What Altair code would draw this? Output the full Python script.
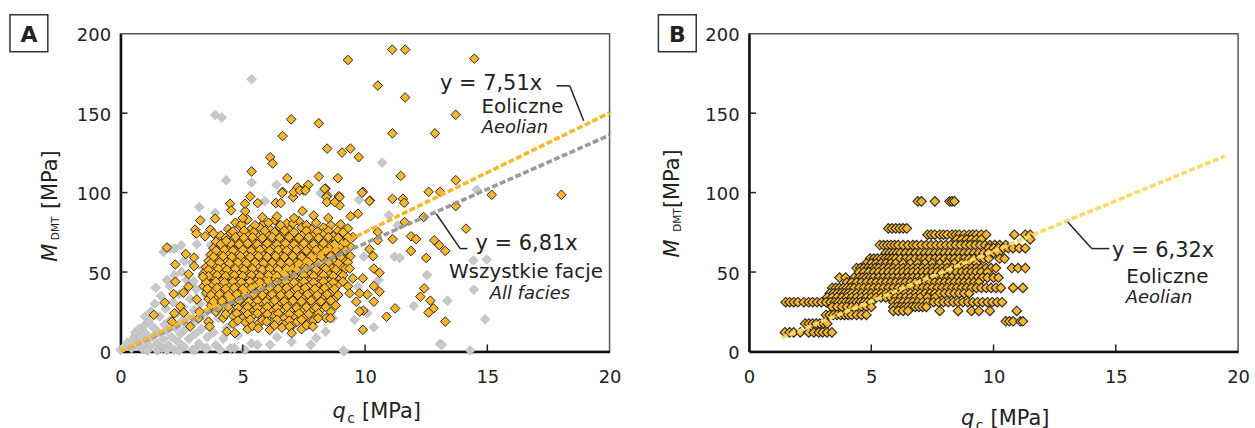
import altair as alt
import pandas as pd

FONT = "DejaVu Sans"
W, H = 491, 319

X_TICKS = [0, 5, 10, 15, 20]
Y_TICKS = [0, 50, 100, 150, 200]
X_INNER_TICKS = [5, 10, 15]
Y_INNER_TICKS = [50, 100, 150]

# ---------------- Panel A : all facies (grey) ----------------
A_GRAY = [
    (0.0, 1), (0.15, 3), (0.3, 5.5), (0.27, 5.2), (0.45, 2), (0.54, 6.3), (0.55, 9), (0.7, 4), (0.8, 9),
    (0.9, 1.5), (1.02, 11.5), (1.05, 6), (1.15, 18.8), (1.2, 3), (1.3, 9), (1.35, 15), (1.44, 40.1),
    (1.5, 5), (1.55, 12), (1.6, 22), (1.7, 2), (1.75, 8), (1.8, 17), (1.85, 27), (1.9, 13), (1.95, 4),
    (2.01, 41.2), (2.05, 20), (2.1, 9), (2.15, 31), (2.2, 1), (2.25, 15), (2.3, 24), (2.35, 6), (2.4, 36),
    (2.45, 11), (2.5, 19), (2.55, 28), (2.6, 3), (2.65, 14), (2.7, 45), (2.75, 22), (2.8, 8), (2.85, 33),
    (2.9, 17), (2.95, 1), (3.0, 26), (3.05, 11), (3.1, 39), (3.15, 20), (3.2, 5), (3.25, 30), (3.3, 14),
    (3.35, 48), (3.4, 23), (3.45, 2), (3.5, 35), (3.55, 9), (3.6, 18), (3.7, 27), (3.8, 12), (3.9, 4),
    (4.0, 21), (4.1, 31), (4.2, 8), (4.35, 15), (4.5, 2), (4.66, 2), (4.8, 10), (5.09, 1), (5.36, 5),
    (5.6, 4.2), (6.12, 4.2), (6.4, 9), (7.78, 4.2), (8.39, 12.5), (0.6, 12), (0.95, 16), (1.25, 25),
    (1.4, 30), (1.65, 35), (1.1, 0.5), (1.5, 0.5), (1.9, 0.8), (2.4, 0.5), (0.75, 14), (1.0, 22),
    (1.76, 62.7), (2.04, 64.8), (2.21, 64.8), (2.48, 66.9), (3.12, 67.5), (3.7, 66.9), (3.64, 60.6),
    (3.83, 57.5), (4.03, 62.7), (2.92, 55.8), (3.39, 52.2), (3.6, 52.2), (3.22, 90.9), (3.87, 87.1),
    (2.2, 48), (2.6, 57), (1.9, 45), (2.5, 50), (3.0, 44),
    (5.36, 171.4), (3.87, 148.8), (4.14, 147.3), (4.32, 107.8), (5.36, 106.4), (6.38, 104.9), (5.9, 94.7),
    (8.21, 99.2), (9.75, 95.5), (8.19, 99.9), (10.7, 118.9), (14.57, 101.8), (10.97, 85.7), (11.34, 79.4),
    (11.21, 59.6), (11.42, 58.9), (12.53, 48.1), (13.37, 32), (14.45, 38.9), (11.99, 28.6), (14.91, 20.3),
    (10.36, 15.2), (13.07, 4.8), (14.3, 0.6), (14.98, 57.9), (14.43, 57.3), (9.95, 59.6), (10.56, 45),
    (10.09, 24), (13.14, 4.2), (9.14, 0), (4.07, 1), (3.53, 2.1), (3.05, 1), (9.57, 19.9), (8.69, 20.9),
    (9.71, 40.8), (9.12, 0.6), (7.0, 6), (8.0, 8.5),
]

# ---------------- Panel A : aeolian (orange) ----------------
A_ORANGE_OUT = [
    (9.30, 183.5), (6.98, 146.1), (8.11, 143.6), (6.63, 135.6), (8.45, 127.7), (9.06, 125.2), (9.40, 127.7),
    (9.74, 122.3), (6.12, 122.3), (6.22, 118.3), (5.36, 113.3), (6.82, 109.1), (8.11, 110.1), (8.89, 109.1),
    (7.24, 103.4), (7.68, 104.9), (8.38, 102.6), (6.63, 100.5), (7.5, 101.4), (9.91, 100.5),
    (11.11, 190), (11.64, 190), (14.47, 184.3), (10.52, 167.4), (11.64, 159.9), (13.71, 149), (11.12, 137.3),
    (12.86, 137.3), (11.46, 110.5), (13.71, 107.8), (12.6, 100.5), (13.07, 100.5), (18.03, 98.6), (15.18, 98.6),
    (8.46, 98.2), (8.93, 97.8), (9.88, 99.9), (10.2, 95), (11.12, 96.1), (11.55, 96.1), (10.18, 94.7),
    (11.6, 93.6), (13.71, 91.5), (11.62, 81.5), (12.4, 84.6), (14.13, 77.3), (10.52, 75.2), (11.13, 70.7),
    (11.88, 72.5), (12.09, 70.7), (12.83, 70), (13.03, 66.9), (13.28, 63.3), (11.88, 63.3), (12.5, 58.9),
    (10.52, 70), (10.18, 64.4), (10.33, 60), (10.36, 52.2), (10.59, 49.5), (9.91, 46), (10.36, 41.2),
    (10.59, 37.6), (10.09, 35.9), (12.42, 39.7), (12.26, 34.5), (12.67, 32), (10.36, 31.3), (11.23, 27.1),
    (12.8, 27.1), (12.6, 24.5), (10.88, 21.9), (13.28, 18.8), (9.93, 25.7), (9.91, 13.6),
    (1.9, 65.4), (2.67, 61.3), (3.01, 59.1), (2.24, 54.7), (3.01, 53.7), (2.78, 48.7), (3.37, 47), (2.24, 43.9),
    (3.05, 76.7), (3.1, 74.2), (3.46, 72.5), (3.26, 82.5), (3.87, 83.6), (3.67, 76.7), (3.8, 74.2), (4.32, 69.6),
    (4.48, 93), (4.52, 88.8), (5.1, 88.4), (5.09, 93), (5.3, 97.6), (5.61, 93.4), (6.35, 93.4), (6.55, 93.4),
    (7.44, 88.4), (7.06, 97.2), (7.08, 100.3), (6.61, 99.7), (7.33, 101.4), (7.56, 101.4), (8.35, 102.4),
    (8.42, 97.2), (8.44, 94), (8.96, 97.2), (8.96, 92), (8.76, 94), (9.41, 85.1), (9.71, 86.7),
    (5.0, 84), (5.8, 84.5), (6.4, 85), (7.1, 84), (7.9, 85.5), (8.5, 84), (9.0, 80),
    (1.36, 23), (1.81, 30.7), (2.17, 36.2), (2.58, 37), (2.78, 40.8), (2.2, 24), (2.58, 24.5), (3.12, 32.8),
    (2.85, 15.7), (2.1, 18.8), (2.44, 28.4), (3.19, 20.9), (3.23, 25.1), (3.6, 18.8), (3.64, 15.7),
    (4.35, 12.5), (4.68, 11.5), (5.63, 14.6), (5.98, 18.8), (6.92, 15.7), (7.0, 11.5), (8.08, 20.9),
    (7.87, 15.7), (8.58, 20.9), (9.37, 52.2), (9.5, 46), (9.78, 36.6), (9.37, 36.6), (9.64, 31.3), (9.78, 25.1),
]

A_ORANGE_CORE = [
    (4.7, 81), (5.2, 83), (5.8, 80), (6.3, 82.5), (6.8, 80.5), (7.3, 82), (8.0, 81), (8.6, 79.5),
    (4.4, 77), (4.9, 78.5), (5.3, 76.5), (5.7, 78), (6.1, 77), (6.5, 78.5), (6.9, 76.5), (7.4, 78), (7.8, 77),
    (8.3, 78), (8.9, 76), (9.3, 77.5),
    (4.1, 73), (4.5, 74.5), (4.9, 73), (5.2, 74), (5.6, 72.5), (6.0, 74), (6.35, 73), (6.7, 74.5), (7.1, 72.5),
    (7.5, 74), (7.9, 73), (8.3, 74.5), (8.7, 72.5), (9.1, 73.5), (9.5, 72),
    (3.9, 69), (4.3, 70.5), (4.7, 69), (5.0, 70.5), (5.4, 69), (5.8, 70.5), (6.2, 69), (6.55, 70.5), (6.9, 69),
    (7.3, 70.5), (7.7, 69), (8.1, 70.5), (8.5, 69), (8.95, 70),
    (3.8, 65), (4.15, 66.5), (4.5, 65), (4.85, 66.5), (5.2, 65), (5.55, 66.5), (5.9, 65), (6.3, 66.5),
    (6.65, 65), (7.0, 66.5), (7.4, 65), (7.8, 66.5), (8.2, 65), (8.6, 66.5), (9.0, 65), (9.4, 66),
    (3.7, 61), (4.05, 62.5), (4.4, 61), (4.75, 62.5), (5.1, 61), (5.45, 62.5), (5.8, 61), (6.15, 62.5),
    (6.5, 61), (6.85, 62.5), (7.2, 61), (7.6, 62.5), (8.0, 61), (8.4, 62.5), (8.8, 61), (9.2, 62),
    (3.6, 57), (3.95, 58.5), (4.3, 57), (4.65, 58.5), (5.0, 57), (5.35, 58.5), (5.7, 57), (6.05, 58.5),
    (6.4, 57), (6.75, 58.5), (7.1, 57), (7.5, 58.5), (7.9, 57), (8.3, 58.5), (8.7, 57), (9.1, 58),
    (3.5, 53), (3.85, 54.5), (4.2, 53), (4.55, 54.5), (4.9, 53), (5.25, 54.5), (5.6, 53), (5.95, 54.5),
    (6.3, 53), (6.65, 54.5), (7.0, 53), (7.4, 54.5), (7.8, 53), (8.2, 54.5), (8.6, 53), (9.0, 54),
    (3.4, 49), (3.75, 50.5), (4.1, 49), (4.45, 50.5), (4.8, 49), (5.15, 50.5), (5.5, 49), (5.85, 50.5),
    (6.2, 49), (6.55, 50.5), (6.9, 49), (7.3, 50.5), (7.7, 49), (8.1, 50.5), (8.5, 49), (8.9, 50),
    (3.5, 45), (3.85, 46.5), (4.2, 45), (4.55, 46.5), (4.9, 45), (5.25, 46.5), (5.6, 45), (5.95, 46.5),
    (6.3, 45), (6.65, 46.5), (7.0, 45), (7.4, 46.5), (7.8, 45), (8.2, 46.5), (8.6, 45), (9.0, 46),
    (3.4, 41), (3.75, 42.5), (4.1, 41), (4.45, 42.5), (4.8, 41), (5.15, 42.5), (5.5, 41), (5.85, 42.5),
    (6.2, 41), (6.55, 42.5), (6.9, 41), (7.3, 42.5), (7.7, 41), (8.1, 42.5), (8.5, 41), (8.9, 42), (9.3, 41),
    (3.5, 37), (3.85, 38.5), (4.2, 37), (4.55, 38.5), (4.9, 37), (5.25, 38.5), (5.6, 37), (5.95, 38.5),
    (6.3, 37), (6.65, 38.5), (7.0, 37), (7.4, 38.5), (7.8, 37), (8.2, 38.5), (8.6, 37),
    (3.6, 33), (3.95, 34.5), (4.3, 33), (4.65, 34.5), (5.0, 33), (5.35, 34.5), (5.7, 33), (6.05, 34.5),
    (6.4, 33), (6.75, 34.5), (7.1, 33), (7.5, 34.5), (7.9, 33), (8.3, 34.5), (8.75, 33),
    (3.7, 29), (4.05, 30.5), (4.4, 29), (4.75, 30.5), (5.1, 29), (5.45, 30.5), (5.8, 29), (6.15, 30.5),
    (6.5, 29), (6.85, 30.5), (7.2, 29), (7.6, 30.5), (8.0, 29), (8.4, 30.5), (8.8, 29),
    (3.9, 25), (4.3, 26.5), (4.7, 25), (5.05, 26.5), (5.4, 25), (5.8, 26.5), (6.2, 25), (6.6, 26.5),
    (7.0, 25), (7.4, 26.5), (7.8, 25), (8.2, 26.5), (8.6, 25),
    (4.2, 21), (4.6, 22.5), (5.0, 21), (5.4, 22.5), (5.8, 21), (6.25, 22.5), (6.7, 21), (7.1, 22.5),
    (7.5, 21), (7.95, 22.5), (8.4, 21),
    (4.6, 17.5), (5.1, 18.5), (5.6, 17), (6.2, 18.5), (6.7, 17), (7.2, 18.5), (7.7, 17),
    (5.2, 14), (6.1, 13.5), (6.6, 15), (7.4, 14),
]

A_ORANGE_CORE_2 = [
    (4.95, 80), (5.5, 79.5), (6.05, 81), (6.55, 79.5), (7.05, 80.5), (7.6, 79.5),
    (4.6, 75.5), (5.05, 76), (5.45, 75), (5.9, 76), (6.3, 75), (6.7, 76), (7.1, 75), (7.6, 76), (8.05, 75.5),
    (8.5, 76), (9.1, 75),
    (4.3, 71.5), (4.7, 72), (5.05, 71.5), (5.4, 72), (5.8, 71.5), (6.2, 72), (6.5, 71.5), (6.9, 72),
    (7.3, 71.5), (7.7, 72), (8.1, 71.5), (8.5, 72), (8.9, 71.5), (9.3, 72),
    (4.1, 67.5), (4.5, 68), (4.85, 67.5), (5.2, 68), (5.6, 67.5), (6.0, 68), (6.4, 67.5), (6.75, 68),
    (7.1, 67.5), (7.5, 68), (7.9, 67.5), (8.3, 68), (8.75, 67.5), (9.2, 68),
    (3.9, 63.5), (4.25, 64), (4.6, 63.5), (5.0, 64), (5.35, 63.5), (5.7, 64), (6.1, 63.5), (6.45, 64),
    (6.8, 63.5), (7.2, 64), (7.6, 63.5), (8.0, 64), (8.4, 63.5), (8.8, 64), (9.2, 63.5),
    (3.8, 59.5), (4.2, 60), (4.55, 59.5), (4.9, 60), (5.3, 59.5), (5.65, 60), (6.0, 59.5), (6.35, 60),
    (6.7, 59.5), (7.05, 60), (7.4, 59.5), (7.8, 60), (8.2, 59.5), (8.6, 60), (9.0, 59.5), (9.4, 60),
    (3.7, 55.5), (4.05, 56), (4.45, 55.5), (4.8, 56), (5.15, 55.5), (5.5, 56), (5.85, 55.5), (6.2, 56),
    (6.55, 55.5), (6.9, 56), (7.3, 55.5), (7.7, 56), (8.1, 55.5), (8.5, 56), (8.9, 55.5), (9.3, 56),
    (3.6, 51.5), (4.0, 52), (4.35, 51.5), (4.7, 52), (5.05, 51.5), (5.4, 52), (5.8, 51.5), (6.1, 52),
    (6.45, 51.5), (6.8, 52), (7.2, 51.5), (7.6, 52), (8.0, 51.5), (8.4, 52), (8.8, 51.5), (9.2, 52),
    (3.6, 47.5), (3.95, 48), (4.3, 47.5), (4.65, 48), (5.0, 47.5), (5.35, 48), (5.7, 47.5), (6.05, 48),
    (6.4, 47.5), (6.75, 48), (7.1, 47.5), (7.5, 48), (7.9, 47.5), (8.3, 48), (8.7, 47.5), (9.1, 48),
    (3.5, 43.5), (3.9, 44), (4.25, 43.5), (4.6, 44), (4.95, 43.5), (5.3, 44), (5.7, 43.5), (6.05, 44),
    (6.4, 43.5), (6.75, 44), (7.1, 43.5), (7.5, 44), (7.9, 43.5), (8.3, 44), (8.7, 43.5), (9.1, 44),
    (3.55, 39.5), (3.95, 40), (4.3, 39.5), (4.65, 40), (5.0, 39.5), (5.35, 40), (5.75, 39.5), (6.1, 40),
    (6.45, 39.5), (6.8, 40), (7.2, 39.5), (7.55, 40), (7.95, 39.5), (8.35, 40), (8.75, 39.5),
    (3.7, 35.5), (4.05, 36), (4.4, 35.5), (4.75, 36), (5.1, 35.5), (5.45, 36), (5.8, 35.5), (6.2, 36),
    (6.55, 35.5), (6.9, 36), (7.25, 35.5), (7.65, 36), (8.05, 35.5), (8.45, 36), (8.9, 35.5),
    (3.8, 31.5), (4.15, 32), (4.5, 31.5), (4.85, 32), (5.25, 31.5), (5.6, 32), (5.95, 31.5), (6.3, 32),
    (6.7, 31.5), (7.05, 32), (7.4, 31.5), (7.8, 32), (8.2, 31.5), (8.6, 32),
    (4.0, 27.5), (4.4, 28), (4.8, 27.5), (5.2, 28), (5.6, 27.5), (6.0, 28), (6.4, 27.5), (6.8, 28),
    (7.2, 27.5), (7.6, 28), (8.0, 27.5), (8.4, 28),
    (4.3, 23.5), (4.75, 24), (5.2, 23.5), (5.6, 24), (6.0, 23.5), (6.45, 24), (6.9, 23.5), (7.3, 24),
    (7.7, 23.5), (8.1, 24),
    (4.8, 19.5), (5.3, 20), (5.8, 19.5), (6.4, 20), (6.9, 19.5), (7.4, 20), (7.9, 19.5),
    (5.4, 16), (6.3, 16.5), (7.0, 16), (7.6, 16.5),
]

# ---------------- Panel B : aeolian, rows of constant M_DMT ----------------
B_LEVELS = [94.5, 77.5, 73.5, 70.5, 67, 65, 62, 58.5, 55.5, 52.5, 50, 46.5, 43.5, 40, 36.5, 34, 31, 28,
            25.5, 23, 19, 17.5, 12]
B_ROWS = [
    [6.9, 7.05, 7.6, 8.2, 8.3, 8.4],
    [5.7, 5.85, 6.0, 6.15, 6.3, 6.45],
    [7.3, 7.45, 7.6, 7.8, 7.95, 8.1, 8.3, 8.45, 8.6, 8.8, 9.0, 9.15, 9.3, 9.5, 9.7, 10.85, 11.3, 11.5],
    [8.5, 8.7, 8.9, 9.1, 9.3, 9.5, 11.5],
    [5.35, 5.5, 5.65, 5.8, 5.95, 6.1, 6.3, 6.5, 6.7, 6.85, 7.05, 7.25, 7.45, 7.65, 7.85, 8.05, 8.25, 8.45,
     8.65, 8.85, 9.05, 9.25, 9.45, 9.65, 9.85, 10.05, 10.25, 10.5],
    [9.8, 10.0, 10.2, 10.4, 10.6, 10.8, 11.05, 11.3],
    [5.6, 5.75, 5.9, 6.05, 6.2, 6.4, 6.6, 6.8, 7.0, 7.2, 7.4, 7.6, 7.8, 8.0, 8.2, 8.4, 8.6, 8.8, 9.0, 9.2,
     9.4, 9.6, 9.8, 10.0, 10.2],
    [4.95, 5.1, 5.25, 5.4, 5.55, 5.7, 5.85, 6.0, 6.2, 6.4, 6.6, 6.8, 7.0, 7.2, 7.4, 7.6, 7.8, 8.0, 8.2, 8.4,
     8.6, 8.8, 9.0, 9.2, 9.4, 9.6, 9.8, 10.25, 10.45],
    [4.8, 5.0, 5.2, 5.4, 5.6, 5.8, 6.0, 6.3, 6.6, 6.9, 7.2, 7.5, 7.8, 8.1, 8.4, 8.7, 9.0, 9.3],
    [4.4, 4.55, 4.7, 4.85, 5.0, 5.15, 5.3, 5.5, 5.7, 5.9, 6.1, 6.3, 6.5, 6.7, 6.9, 7.1, 7.3, 7.5, 7.7, 7.9,
     8.1, 8.3, 8.5, 8.7, 8.9, 9.1, 9.3, 9.5, 9.7, 9.9, 10.1, 10.75, 11.0, 11.3],
    [4.5, 4.7, 4.9, 5.1, 5.3, 5.5, 5.7, 5.9, 6.1, 6.3, 6.5, 6.7, 6.9, 7.1, 7.3, 7.5, 7.7, 7.9, 8.1, 8.3,
     8.5, 8.7, 8.9, 9.1, 9.3, 9.5, 9.75],
    [3.7, 3.95, 4.3, 4.5, 4.65, 4.8, 4.95, 5.1, 5.3, 5.5, 5.7, 5.9, 6.1, 6.3, 6.5, 6.7, 6.9, 7.1, 7.3, 7.5,
     7.7, 7.9, 8.1, 8.3, 8.55, 8.75, 8.95, 9.15, 9.35, 9.55, 9.75, 10.0, 10.2],
    [4.0, 4.2, 4.4, 4.6, 4.8, 5.0, 5.2, 5.4, 5.6, 5.8, 6.0, 6.2, 6.4, 6.6, 6.8, 7.0, 7.2, 7.4, 7.6, 7.8,
     8.0, 8.2, 8.4, 8.6, 8.8, 9.0, 9.2, 9.4],
    [3.4, 3.55, 3.7, 3.85, 4.0, 4.15, 4.3, 4.5, 4.7, 4.9, 5.1, 5.3, 5.5, 5.7, 5.9, 6.1, 6.3, 6.5, 6.7, 6.9,
     7.1, 7.3, 7.5, 7.7, 7.9, 8.1, 8.3, 8.5, 8.7, 8.9, 9.1, 9.3, 9.5, 9.7, 9.9, 10.1, 10.3, 10.8, 11.2],
    [3.3, 3.45, 3.6, 3.75, 3.9, 4.05, 4.2, 4.4, 4.6, 4.8, 5.0, 5.2, 5.4, 5.6, 5.8, 6.0, 6.2, 6.4, 6.6, 6.8,
     7.0, 7.2, 7.4, 7.6, 7.8, 8.0, 8.2, 8.4, 8.6, 8.8, 9.0],
    [3.2, 3.4, 3.6, 3.8, 4.0, 4.2, 4.4, 4.6, 4.8, 5.0, 5.2, 5.4, 5.6, 5.8, 6.0, 6.2, 6.4, 6.6, 6.8, 7.0,
     7.3, 7.6],
    [1.5, 1.66, 1.83, 2.0, 2.24, 2.44, 2.6, 2.78, 2.96, 3.15, 3.33, 3.5, 3.65, 3.8, 3.95, 4.1, 4.25, 4.4,
     4.55, 4.7, 4.85, 5.0, 5.9, 6.1, 6.3, 6.5, 6.7, 6.9, 7.1, 7.3, 7.55, 7.75, 7.95, 8.15, 8.35, 8.55,
     8.75, 8.95, 9.15, 9.35, 9.55, 9.75, 9.95, 10.15, 10.35],
    [3.4, 3.6, 3.8, 4.0, 4.2, 4.4, 4.6, 4.8, 5.0, 5.9, 6.05, 6.2, 6.35, 6.5, 6.65, 6.8, 6.95, 7.1, 7.25],
    [5.9, 6.1, 6.3, 6.5, 7.8, 8.55, 9.1, 9.4, 9.85, 10.95],
    [3.15, 3.3, 3.45, 3.6, 3.75, 3.9, 4.05, 4.2, 4.4, 4.6, 4.8],
    [10.5, 10.65, 10.8, 11.1, 11.2],
    [2.3, 2.45, 2.6, 2.75, 2.9, 3.05, 3.2],
    [1.47, 1.66, 1.83, 2.1, 2.44, 2.65, 2.85, 3.01, 3.19, 3.39],
]

# fitted slopes (M_DMT = k * q_c) and the q_c span each fit is drawn over
FIT_A_AEOLIAN = 7.51
FIT_A_ALL = 6.81
FIT_B_AEOLIAN = 6.32
A_LINE_RANGE = [0, 20]
B_LINE_RANGE = [1.35, 19.45]

ORANGE = "#fbb62a"
EDGE = "#262626"
GREY_PT = "#c8c8c8"
TXT = "#222222"
PT_SIZE = 92

xs = alt.Scale(domain=[0, 20], nice=False, zero=False)
ys = alt.Scale(domain=[0, 200], nice=False, zero=False)

x_axis = alt.Axis(values=X_TICKS, ticks=False, grid=False, title=None, labelFontSize=18,
                  labelColor=TXT, labelPadding=17, domainColor="#111", domainWidth=2.5,
                  labelFlush=False, labelFont=FONT)
y_axis = alt.Axis(values=Y_TICKS, ticks=False, grid=False, title=None, labelFontSize=18,
                  labelColor=TXT, labelPadding=10, labelOffset=2, domainColor="#111",
                  domainWidth=2.5, labelFont=FONT)


def enc_xy():
    return dict(x=alt.X("q:Q", scale=xs, axis=x_axis), y=alt.Y("m:Q", scale=ys, axis=y_axis))


def scatter(pairs, fill, stroke, sw):
    df = pd.DataFrame(pairs, columns=["q", "m"])
    return alt.Chart(df).mark_point(shape="diamond", filled=True, size=PT_SIZE, color=fill,
                                     stroke=stroke, strokeWidth=sw, opacity=1).encode(**enc_xy())


def fit_line(slope, rng, color):
    df = pd.DataFrame({"q": rng})
    return (alt.Chart(df).transform_calculate(m=f"{slope} * datum.q")
            .mark_line(color=color, strokeWidth=3.6, strokeDash=[6, 2.5])
            .encode(**enc_xy()))


def txt(s, x, y, size=20, style="normal", weight="normal", align="center", angle=0):
    return (alt.Chart(pd.DataFrame({"t": [s]}))
            .mark_text(x=x, y=y, fontSize=size, fontStyle=style, fontWeight=weight, align=align,
                       angle=angle, baseline="alphabetic", color=TXT, font=FONT)
            .encode(text="t:N"))


def seg(x1, y1, x2, y2, color="#222", w=1.5):
    return (alt.Chart(pd.DataFrame({"k": [0]})).mark_rule(color=color, strokeWidth=w)
            .encode(x=alt.value(x1), y=alt.value(y1), x2=alt.value(x2), y2=alt.value(y2)))


def box(x1, y1, x2, y2):
    return (alt.Chart(pd.DataFrame({"k": [0]})).mark_rect(fill="white", stroke="#333", strokeWidth=1.5)
            .encode(x=alt.value(x1), x2=alt.value(x2), y=alt.value(y1), y2=alt.value(y2)))


def inner_ticks():
    yt = (alt.Chart(pd.DataFrame({"m": Y_INNER_TICKS})).mark_rule(color="#222", strokeWidth=1.5)
          .encode(y=alt.Y("m:Q", scale=ys, axis=y_axis), x=alt.value(0), x2=alt.value(7)))
    xt = (alt.Chart(pd.DataFrame({"q": X_INNER_TICKS})).mark_rule(color="#222", strokeWidth=1.5)
          .encode(x=alt.X("q:Q", scale=xs, axis=x_axis), y=alt.value(H), y2=alt.value(H - 7)))
    return [yt, xt]


def axis_titles(ym_x, ym_y, ysub_x, ysub_y, yunit_y, xbase, xsub_base):
    return [
        txt("M", ym_x, ym_y, size=21, style="italic", angle=270),
        txt("DMT", ysub_x, ysub_y, size=10.5, angle=270),
        txt("[MPa]", ym_x, yunit_y, size=21, angle=270),
        txt("q", 219.5, xbase, size=21, style="italic"),
        txt("c", 231.5, xsub_base, size=14),
        txt("[MPa]", 272, xbase, size=21),
    ]


# ---------------- Panel A ----------------
panel_a = alt.layer(
    scatter(A_GRAY, GREY_PT, "#b8b8b8", 0.8),
    scatter(A_ORANGE_CORE, ORANGE, EDGE, 1),
    scatter(A_ORANGE_CORE_2, ORANGE, EDGE, 1),
    scatter(A_ORANGE_OUT, ORANGE, EDGE, 1),
    fit_line(FIT_A_ALL, A_LINE_RANGE, "#9a9a9a"),
    fit_line(FIT_A_AEOLIAN, A_LINE_RANGE, "#fbb62a"),
    *inner_ticks(),
    txt("y = 7,51x", 372, 56, size=21),
    txt("Eoliczne", 403.5, 80, size=20),
    txt("Aeolian", 396, 99.5, size=18, style="italic"),
    seg(437.7, 52.3, 451, 52.3), seg(451, 52.3, 465, 87.3),
    txt("y = 6,81x", 407.7, 217, size=21),
    txt("Wszystkie facje", 407, 245.7, size=20),
    txt("All facies", 411, 266, size=18, style="italic"),
    seg(317, 180.7, 341, 215.7), seg(341, 215.7, 348.3, 215.7),
    box(-111, -19, -73, 18),
    txt("A", -92, 8, size=22, weight="bold"),
    *axis_titles(-64, 220, -61.5, 195.5, 146.5, 386, 390.7),
).properties(width=W, height=H)

# ---------------- Panel B ----------------
b_pairs = [(x, lvl) for lvl, row in zip(B_LEVELS, B_ROWS) for x in row]

panel_b = alt.layer(
    scatter(b_pairs, ORANGE, EDGE, 1.1),
    fit_line(FIT_B_AEOLIAN, B_LINE_RANGE, "#ffd866"),
    *inner_ticks(),
    txt("y = 6,32x", 415.8, 224, size=21),
    txt("Eoliczne", 420, 250, size=20),
    txt("Aeolian", 411.7, 270, size=18, style="italic"),
    seg(320, 189, 344, 215.7), seg(344, 215.7, 361.7, 215.7),
    box(-91, -19, -53, 18),
    txt("B", -72, 8, size=22, weight="bold"),
    *axis_titles(-70, 215.7, -68, 187, 145.5, 393, 397.7),
).properties(width=W, height=H)

chart = (
    alt.hconcat(panel_a, panel_b, spacing=140, bounds="flush")
    .configure(font=FONT)
    .configure_view(stroke="#555", strokeWidth=1.5)
    .properties(padding={"left": 8, "top": 12, "right": 4, "bottom": 0})
)

chart.save("out.html", embed_options={"renderer": "svg", "actions": False})
